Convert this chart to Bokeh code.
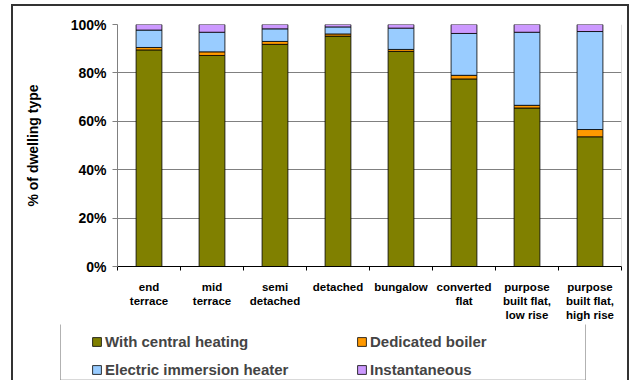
from bokeh.plotting import figure
from bokeh.models import (FixedTicker, PrintfTickFormatter, Legend, LegendItem,
                          Span, ColumnDataSource, BoxAnnotation)
from bokeh.layouts import column
from bokeh.embed import file_html
from bokeh.resources import INLINE

categories = ["end\nterrace", "mid\nterrace", "semi\ndetached", "detached", "bungalow",
              "converted\nflat", "purpose\nbuilt flat,\nlow rise", "purpose\nbuilt flat,\nhigh rise"]
central_heating = [89.5, 87.2, 91.8, 95.2, 88.9, 77.5, 65.5, 53.6]
dedicated_boiler = [1.0, 1.5, 1.2, 0.9, 0.8, 1.5, 1.1, 3.0]
electric_immersion = [7.2, 8.1, 5.2, 2.9, 8.8, 17.3, 30.2, 40.5]
instantaneous = [2.3, 3.2, 1.8, 1.0, 1.5, 3.7, 3.2, 2.9]
y_ticks = [0, 20, 40, 60, 80, 100]
series_names = ["With central heating", "Dedicated boiler", "Electric immersion heater", "Instantaneous"]
colors = ["#808000", "#FF9900", "#99CCFF", "#CC99FF"]

xpos = [i + 0.5 for i in range(len(categories))]
src = ColumnDataSource(dict(x=xpos, ch=central_heating, db=dedicated_boiler,
                            ei=electric_immersion, inst=instantaneous))

FONT = "Liberation Sans"

p = figure(width=614, height=318, output_backend="svg", toolbar_location=None,
           x_range=(0, len(categories)), y_range=(0, 100),
           min_border_left=104, min_border_right=6, min_border_top=18, min_border_bottom=57)
p.outline_line_color = None
p.background_fill_color = "white"
p.border_fill_color = "white"

rs = p.vbar_stack(["ch", "db", "ei", "inst"], x="x", width=0.41, source=src,
                  color=colors, line_color="black", line_width=0.8)

p.xgrid.grid_line_color = None
p.ygrid.grid_line_color = "#808080"
p.ygrid.grid_line_width = 1
p.ygrid.ticker = FixedTicker(ticks=y_ticks)

ya = p.yaxis[0]
ya.ticker = FixedTicker(ticks=y_ticks)
ya.formatter = PrintfTickFormatter(format="%d%%")
ya.axis_line_color = "#808080"
ya.major_tick_line_color = "#808080"
ya.major_tick_out = 5
ya.major_tick_in = 0
ya.minor_tick_line_color = None
ya.major_label_text_font = FONT
ya.major_label_text_font_style = "bold"
ya.major_label_text_font_size = "14px"
ya.major_label_text_color = "black"
ya.major_label_standoff = 6
ya.axis_label = "% of dwelling type"
ya.axis_label_text_font = FONT
ya.axis_label_text_font_style = "bold"
ya.axis_label_text_font_size = "14px"
ya.axis_label_text_color = "black"
ya.axis_label_standoff = 27

xa = p.xaxis[0]
xa.ticker = FixedTicker(ticks=xpos, minor_ticks=list(range(len(categories) + 1)))
xa.major_label_overrides = {x: c for x, c in zip(xpos, categories)}
xa.axis_line_color = "black"
xa.major_tick_line_color = None
xa.major_tick_out = 0
xa.major_tick_in = 0
xa.minor_tick_line_color = "black"
xa.minor_tick_out = 4
xa.minor_tick_in = 0
xa.major_label_text_font = FONT
xa.major_label_text_font_style = "bold"
xa.major_label_text_font_size = "11.5px"
xa.major_label_text_color = "black"
xa.major_label_standoff = 10

p.add_layout(Span(location=len(categories), dimension="height", line_color="#c0c0c0", line_width=1))

# legend strip: a second plot whose (off-view) stacked bars act as legend proxies
p2 = figure(width=614, height=56, output_backend="svg", toolbar_location=None,
            x_range=(0, len(categories)), y_range=(1000, 1001),
            x_axis_location=None, y_axis_location=None,
            min_border_left=0, min_border_right=0, min_border_top=0, min_border_bottom=0)
p2.outline_line_color = None
p2.grid.visible = False
p2.border_fill_color = "white"
p2.background_fill_color = "white"
proxies = p2.vbar_stack(["ch", "db", "ei", "inst"], x="x", width=0.41, source=src,
                        color=colors, line_color="black", line_width=0.8)
legend = Legend(items=[LegendItem(label=n, renderers=[r]) for n, r in zip(series_names, proxies)],
                location=(78, 1), orientation="horizontal", ncols=2,
                padding=0, margin=0, spacing=8, label_width=243, label_height=20,
                glyph_width=11, glyph_height=11, label_standoff=3,
                label_text_font=FONT, label_text_font_style="bold", label_text_font_size="15px",
                border_line_color=None, background_fill_alpha=0)
p2.add_layout(legend, "center")
p2.add_layout(BoxAnnotation(left=47, right=572, top=0.5, bottom=80,
                            left_units="screen", right_units="screen",
                            top_units="screen", bottom_units="screen",
                            fill_alpha=0, line_color="black", line_width=1))

box_style = {"margin-left": "11px", "border-left": "2px solid #333333",
             "border-right": "2px solid #333333"}
try:
    p.frame_align = False
    p2.frame_align = False
    roots = column(p, p2, spacing=0,
                   styles=dict(box_style, **{"margin-top": "4px", "border-top": "2px solid #333333"}))
except AttributeError:
    p.styles = dict(box_style, **{"margin-top": "4px", "border-top": "2px solid #333333"})
    p2.styles = dict(box_style)
    roots = [p, p2]

open("out.html", "w").write(file_html(roots, INLINE))
